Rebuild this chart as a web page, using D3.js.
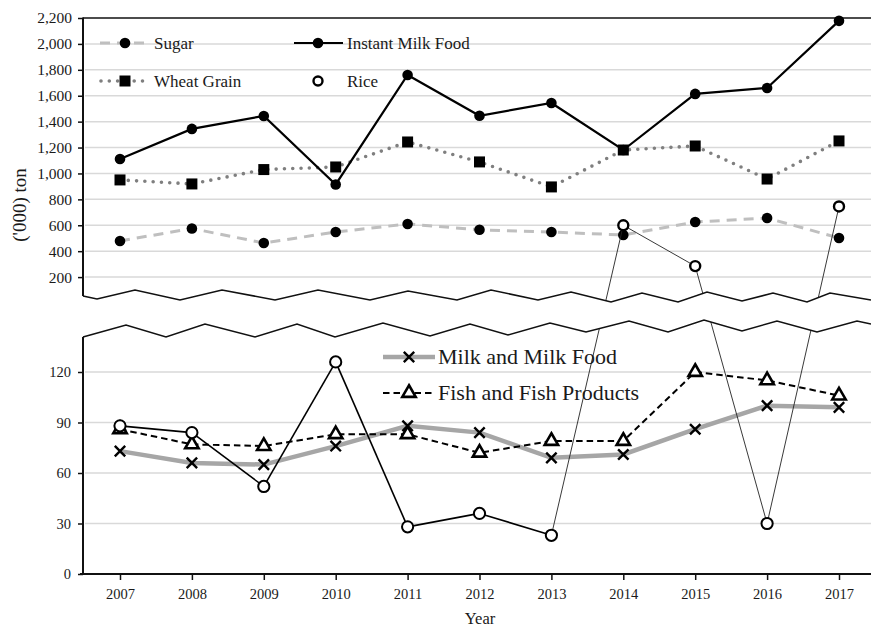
<!DOCTYPE html>
<html>
<head>
<meta charset="utf-8">
<script src="https://cdn.jsdelivr.net/npm/d3@7"></script>
<style>
  html, body { margin: 0; padding: 0; background: #fff; }
  svg { display: block; }
  svg text { font-family: "Liberation Serif", "Tinos", "Times New Roman", Times, "DejaVu Serif", serif !important; fill: #1a1a1a; }
</style>
</head>
<body>
<svg id="chart" width="871" height="628"></svg>
<script>
// Annual quantities, ('000) ton
const years = [2007, 2008, 2009, 2010, 2011, 2012, 2013, 2014, 2015, 2016, 2017];
const sugar = [479, 575, 463, 548, 610, 565, 548, 525, 625, 656, 502];
const instantMilkFood = [1112, 1344, 1444, 915, 1760, 1445, 1544, 1181, 1614, 1660, 2178];
const wheatGrain = [950, 919, 1030, 1050, 1243, 1089, 896, 1181, 1212, 957, 1251];
const rice = [88, 84, 52, 126, 28, 36, 23, 600, 285, 30, 745];
const milkAndMilkFood = [73, 66, 65, 76, 88, 84, 69, 71, 86, 100, 99];
const fishAndFishProducts = [86, 77, 76, 83, 83, 72, 79, 79, 120, 115, 106];

const upperTicks = [200, 400, 600, 800, 1000, 1200, 1400, 1600, 1800, 2000, 2200];
const lowerTicks = [0, 30, 60, 90, 120];

// values above this are plotted on the upper (large-quantity) panel
const panelSplit = 150;

const serif = '"Liberation Serif", "Tinos", "Times New Roman", Times, "DejaVu Serif", serif';

const svg = d3.select("#chart").attr("font-family", serif);
const W = 871;
const axisX = 83;

const x = d3.scalePoint().domain(years).range([120, 839]);
const yTop = d3.scaleLinear().domain([0, 2200]).range([303, 18]);
const yBot = d3.scaleLinear().domain([0, 120]).range([574, 372]);
const yAny = v => (v > panelSplit ? yTop(v) : yBot(v));

// broken-axis zigzags (decoration)
const breakTop = [[83,296],[97,299],[135,290],[180,300],[222,290],[275,300],[318,290],[370,300],[408,291],[457,300],[491,290],[538,300],[571,292],[611,302],[642,293],[678,302],[707,292],[742,301],[773,293],[807,302],[830,293],[871,300]];
const breakBot = [[83,337],[126,325],[166,337],[205,324],[255,337],[297,324],[335,337],[383,323],[430,336],[470,324],[508,335],[550,323],[586,332],[629,321],[668,332],[704,320],[742,331],[777,321],[817,332],[857,321],[871,324]];

// gridlines
const grid = svg.append("g");
upperTicks.filter(t => t < 2200).forEach(t => {
  grid.append("line").attr("x1", axisX + 2).attr("x2", W)
    .attr("y1", yTop(t)).attr("y2", yTop(t))
    .attr("stroke", "#d9d9d9").attr("stroke-width", 1.5);
});
lowerTicks.filter(t => t > 0).forEach(t => {
  grid.append("line").attr("x1", axisX + 2).attr("x2", W)
    .attr("y1", yBot(t)).attr("y2", yBot(t))
    .attr("stroke", "#d9d9d9").attr("stroke-width", 1.5);
});

// top frame line
svg.append("line").attr("x1", axisX).attr("x2", W).attr("y1", 18).attr("y2", 18)
  .attr("stroke", "#111").attr("stroke-width", 1.6);

// y axes
const axTop = svg.append("g").attr("transform", `translate(${axisX},0)`)
  .call(d3.axisLeft(yTop).tickValues(upperTicks).tickSize(5).tickPadding(6).tickFormat(d3.format(",")));
axTop.attr("font-family", serif);
axTop.select(".domain").remove();
axTop.selectAll(".tick line").attr("stroke", "#111").attr("stroke-width", 1.5);
axTop.selectAll(".tick text").style("font-size", "15.5px").attr("fill", "#1a1a1a");

const axBot = svg.append("g").attr("transform", `translate(${axisX},0)`)
  .call(d3.axisLeft(yBot).tickValues(lowerTicks).tickSize(5).tickPadding(7));
axBot.attr("font-family", serif);
axBot.select(".domain").remove();
axBot.selectAll(".tick line").attr("stroke", "#111").attr("stroke-width", 1.5);
axBot.selectAll(".tick text").style("font-size", "14.5px").attr("fill", "#333");

svg.append("line").attr("x1", axisX).attr("x2", axisX).attr("y1", 17.5).attr("y2", 296)
  .attr("stroke", "#111").attr("stroke-width", 2);
svg.append("line").attr("x1", axisX).attr("x2", axisX).attr("y1", 337).attr("y2", 574)
  .attr("stroke", "#111").attr("stroke-width", 2);

// x axis
const axX = svg.append("g").attr("transform", "translate(0,574)")
  .call(d3.axisBottom(x).tickSize(6).tickPadding(9).tickSizeOuter(0));
axX.attr("font-family", serif);
axX.select(".domain").attr("d", `M80,0H${W}`).attr("stroke", "#111").attr("stroke-width", 2.2);
axX.selectAll(".tick line").attr("stroke", "#111").attr("stroke-width", 1.5);
axX.selectAll(".tick text").style("font-size", "14.5px").attr("fill", "#333");

const line = (vals, yf) => d3.line().x((d, i) => x(years[i])).y(d => yf(d))(vals);

// ---- upper panel series ----
svg.append("path").attr("d", line(sugar, yTop)).attr("fill", "none")
  .attr("stroke", "#bfbfbf").attr("stroke-width", 3).attr("stroke-dasharray", "10,7");
svg.append("path").attr("d", line(wheatGrain, yTop)).attr("fill", "none")
  .attr("stroke", "#7f7f7f").attr("stroke-width", 3.6).attr("stroke-linecap", "round")
  .attr("stroke-dasharray", "0,8.3");
svg.append("path").attr("d", line(instantMilkFood, yTop)).attr("fill", "none")
  .attr("stroke", "#000").attr("stroke-width", 2.2);

svg.append("g").selectAll("circle").data(sugar).join("circle")
  .attr("cx", (d, i) => x(years[i])).attr("cy", d => yTop(d)).attr("r", 5.3).attr("fill", "#000");
svg.append("g").selectAll("path").data(wheatGrain).join("path")
  .attr("d", d3.symbol(d3.symbolSquare, 121))
  .attr("transform", (d, i) => `translate(${x(years[i])},${yTop(d)})`).attr("fill", "#000");
svg.append("g").selectAll("circle").data(instantMilkFood).join("circle")
  .attr("cx", (d, i) => x(years[i])).attr("cy", d => yTop(d)).attr("r", 5.3).attr("fill", "#000");

// ---- lower panel series ----
svg.append("path").attr("d", line(milkAndMilkFood, yBot)).attr("fill", "none")
  .attr("stroke", "#a6a6a6").attr("stroke-width", 4.5);
svg.append("path").attr("d", line(fishAndFishProducts, yBot)).attr("fill", "none")
  .attr("stroke", "#000").attr("stroke-width", 2).attr("stroke-dasharray", "6.5,4");

const tri = d3.symbol(d3.symbolTriangle, 78);
svg.append("g").selectAll("path").data(fishAndFishProducts).join("path")
  .attr("d", tri)
  .attr("transform", (d, i) => `translate(${x(years[i])},${yBot(d)})`)
  .attr("fill", "#fff").attr("stroke", "#000").attr("stroke-width", 2.6).attr("stroke-linejoin", "miter");

const cross = "M-5.2,-5.2L5.2,5.2M-5.2,5.2L5.2,-5.2";
svg.append("g").selectAll("path").data(milkAndMilkFood).join("path")
  .attr("d", cross)
  .attr("transform", (d, i) => `translate(${x(years[i])},${yBot(d)})`)
  .attr("fill", "none").attr("stroke", "#000").attr("stroke-width", 2.4);

// ---- rice spans both panels ----
const riceG = svg.append("g");
for (let i = 0; i < rice.length - 1; i++) {
  const a = rice[i], b = rice[i + 1];
  const bothLow = a <= panelSplit && b <= panelSplit;
  riceG.append("line")
    .attr("x1", x(years[i])).attr("y1", yAny(a))
    .attr("x2", x(years[i + 1])).attr("y2", yAny(b))
    .attr("stroke", bothLow ? "#000" : "#222")
    .attr("stroke-width", bothLow ? 1.6 : 0.9);
}

// white band between the two panels, then the zigzag edges
const band = breakTop.concat(breakBot.slice().reverse());
svg.append("path").attr("d", "M" + band.map(p => p.join(",")).join("L") + "Z").attr("fill", "#fff");
svg.append("path").attr("d", d3.line()(breakTop)).attr("fill", "none").attr("stroke", "#111").attr("stroke-width", 1.6);
svg.append("path").attr("d", d3.line()(breakBot)).attr("fill", "none").attr("stroke", "#111").attr("stroke-width", 1.6);

svg.append("g").selectAll("circle").data(rice).join("circle")
  .attr("cx", (d, i) => x(years[i])).attr("cy", d => yAny(d))
  .attr("r", d => (d > panelSplit ? 5 : 5.6))
  .attr("fill", "#fff").attr("stroke", "#000").attr("stroke-width", d => (d > panelSplit ? 2.4 : 2));

// ---- legends ----
const lg = svg.append("g");
// Sugar
lg.append("line").attr("x1", 100).attr("x2", 149).attr("y1", 43).attr("y2", 43)
  .attr("stroke", "#bfbfbf").attr("stroke-width", 3).attr("stroke-dasharray", "10,7");
lg.append("circle").attr("cx", 125).attr("cy", 43).attr("r", 5.3).attr("fill", "#000");
lg.append("text").attr("x", 154).attr("y", 49).style("font-size", "17px").text("Sugar");
// Instant Milk Food
lg.append("line").attr("x1", 294).attr("x2", 343).attr("y1", 43).attr("y2", 43)
  .attr("stroke", "#000").attr("stroke-width", 2.2);
lg.append("circle").attr("cx", 318).attr("cy", 43).attr("r", 5.3).attr("fill", "#000");
lg.append("text").attr("x", 347).attr("y", 49).style("font-size", "17px").text("Instant Milk Food");
// Wheat Grain
lg.append("line").attr("x1", 101).attr("x2", 150).attr("y1", 81).attr("y2", 81)
  .attr("stroke", "#7f7f7f").attr("stroke-width", 3.6).attr("stroke-linecap", "round").attr("stroke-dasharray", "0,8.3");
lg.append("path").attr("d", d3.symbol(d3.symbolSquare, 121)).attr("transform", "translate(125,81)").attr("fill", "#000");
lg.append("text").attr("x", 154).attr("y", 87).style("font-size", "17px").text("Wheat Grain");
// Rice
lg.append("circle").attr("cx", 318).attr("cy", 81).attr("r", 4.5).attr("fill", "#fff")
  .attr("stroke", "#000").attr("stroke-width", 2.4);
lg.append("text").attr("x", 347).attr("y", 87).style("font-size", "17px").text("Rice");
// Milk and Milk Food
lg.append("line").attr("x1", 383).attr("x2", 435).attr("y1", 357).attr("y2", 357)
  .attr("stroke", "#a6a6a6").attr("stroke-width", 4.5);
lg.append("path").attr("d", cross).attr("transform", "translate(409,357)")
  .attr("fill", "none").attr("stroke", "#000").attr("stroke-width", 2.4);
lg.append("text").attr("x", 438).attr("y", 364).style("font-size", "22px").text("Milk and Milk Food");
// Fish and Fish Products
lg.append("line").attr("x1", 383).attr("x2", 435).attr("y1", 393).attr("y2", 393)
  .attr("stroke", "#000").attr("stroke-width", 2).attr("stroke-dasharray", "6.5,4");
lg.append("path").attr("d", tri).attr("transform", "translate(409,393)")
  .attr("fill", "#fff").attr("stroke", "#000").attr("stroke-width", 2.6);
lg.append("text").attr("x", 438).attr("y", 400).style("font-size", "22px").text("Fish and Fish Products");

// axis titles
svg.append("text").attr("transform", "translate(26,205) rotate(-90)")
  .attr("text-anchor", "middle").style("font-size", "19px").text("('000) ton");
svg.append("text").attr("x", 480).attr("y", 624)
  .attr("text-anchor", "middle").style("font-size", "16.5px").text("Year");
</script>
</body>
</html>
